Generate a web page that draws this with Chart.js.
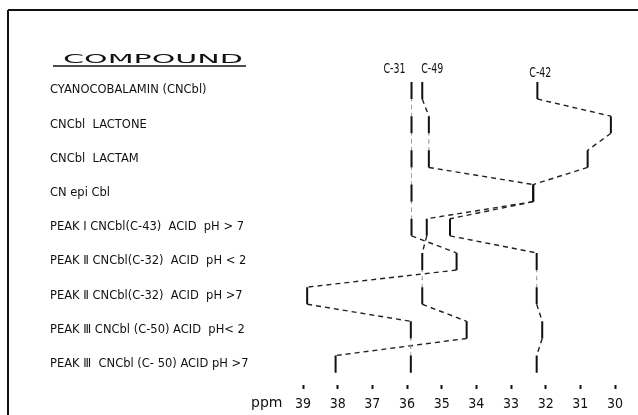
<!DOCTYPE html>
<html><head><meta charset="utf-8">
<script src="https://cdn.jsdelivr.net/npm/chart.js@4/dist/chart.umd.min.js"></script>
<style>html,body{margin:0;padding:0;background:#fff}#wrap{width:638px;height:415px;position:relative}</style>
</head><body><div id="wrap"><canvas id="c"></canvas></div>
<script>
// ---- data ----
const compounds = [
  "CYANOCOBALAMIN (CNCbl)",
  "CNCbl  LACTONE",
  "CNCbl  LACTAM",
  "CN epi Cbl",
  "PEAK Ⅰ CNCbl(C-43)  ACID  pH > 7",
  "PEAK Ⅱ CNCbl(C-32)  ACID  pH < 2",
  "PEAK Ⅱ CNCbl(C-32)  ACID  pH >7",
  "PEAK Ⅲ CNCbl (C-50) ACID  pH< 2",
  "PEAK Ⅲ  CNCbl (C- 50) ACID pH >7"
];
const seriesNames = ["C-31", "C-49", "C-42"];
const c31 = [35.87, 35.87, 35.87, 35.87, 35.87, 34.57, 38.88, 35.89, 35.89];
const c49 = [35.56, 35.37, 35.37, 32.36, 35.43, 35.56, 35.56, 34.28, 38.06];
const c42 = [32.24, 30.12, 30.79, 32.36, 34.76, 32.26, 32.26, 32.10, 32.26];
const ppmTicks = [39, 38, 37, 36, 35, 34, 33, 32, 31, 30];

const HALF = 0.25; // half-height of each row's marker segment (row units)
function toPoints(vals) {
  const pts = [];
  vals.forEach((v, i) => { pts.push({x: v, y: i - HALF}); pts.push({x: v, y: i + HALF}); });
  return pts;
}
const allSeries = [c31, c49, c42];

function kind(ctx) {
  if (Math.floor(ctx.p0DataIndex / 2) === Math.floor(ctx.p1DataIndex / 2)) return 'mark';
  return Math.abs(ctx.p0.parsed.x - ctx.p1.parsed.x) < 0.05 ? 'dot' : 'dash';
}
const segStyle = {
  borderWidth: ctx => ({mark: 2, dot: 1, dash: 1.4})[kind(ctx)],
  borderDash: ctx => ({mark: [], dot: [2, 6], dash: [5, 4]})[kind(ctx)],
  borderColor: ctx => ({mark: '#111', dot: '#9a9a9a', dash: '#222'})[kind(ctx)]
};

const datasets = allSeries.map((vals, k) => ({
  label: seriesNames[k],
  data: toPoints(vals),
  showLine: true,
  borderColor: '#111',
  borderWidth: 1.4,
  pointRadius: 0,
  pointHoverRadius: 0,
  tension: 0,
  fill: false,
  segment: segStyle
}));

const PX_PER_PPM = 34.67, X39 = 303, AREA_L = 290, AREA_R = 625;
const ROW0 = 90.5, ROW_H = 34.2, AREA_T = 10, AREA_B = 385;

const decor = {
  id: 'decor',
  afterDraw(chart) {
    const ctx = chart.ctx, xs = chart.scales.x, ys = chart.scales.y;
    ctx.save();
    // frame
    ctx.strokeStyle = '#111'; ctx.lineWidth = 2;
    ctx.beginPath(); ctx.moveTo(8, 10); ctx.lineTo(638, 10); ctx.moveTo(8, 10); ctx.lineTo(8, 415); ctx.stroke();
    // header
    ctx.fillStyle = '#111';
    ctx.font = '13px "DejaVu Sans"';
    ctx.textBaseline = 'alphabetic';
    const w = ctx.measureText('COMPOUND').width;
    ctx.save(); ctx.translate(63, 63); ctx.scale(180 / w, 1);
    ctx.fillText('COMPOUND', 0, 0); ctx.restore();
    ctx.lineWidth = 1.3; ctx.beginPath(); ctx.moveTo(53, 66); ctx.lineTo(246, 66); ctx.stroke();
    // series labels
    ctx.font = '14px "Liberation Sans Narrow", "DejaVu Sans Condensed", "DejaVu Sans", sans-serif';
    const spec = [{dx: -6, dy: -9, align: 'right'}, {dx: -1, dy: -9, align: 'left'}, {dx: 3, dy: -5, align: 'center'}];
    allSeries.forEach((vals, k) => {
      const px = xs.getPixelForValue(vals[0]);
      const py = ys.getPixelForValue(-HALF);
      ctx.save(); ctx.textAlign = spec[k].align;
      ctx.translate(px + spec[k].dx, py + spec[k].dy); ctx.scale(0.75, 1);
      ctx.fillText(seriesNames[k], 0, 0); ctx.restore();
    });
    // ppm
    ctx.font = '14px "DejaVu Sans"'; ctx.textAlign = 'left';
    ctx.fillText('ppm', 251, 407);
    ctx.restore();
  }
};

new Chart(document.getElementById('c'), {
  type: 'scatter',
  data: {datasets},
  options: {
    responsive: true, maintainAspectRatio: false, animation: false,
    layout: {padding: {left: 50, right: 638 - AREA_R, top: AREA_T, bottom: 0}},
    plugins: {legend: {display: false}, tooltip: {enabled: false}},
    scales: {
      x: {
        type: 'linear', reverse: true,
        min: 39 - (AREA_R - X39) / PX_PER_PPM,
        max: 39 + (X39 - AREA_L) / PX_PER_PPM,
        afterBuildTicks: s => { s.ticks = ppmTicks.map(v => ({value: v})); },
        afterFit: s => { s.height = 415 - AREA_B; },
        border: {display: false},
        grid: {display: true, drawOnChartArea: false, drawTicks: true, tickLength: 4, tickWidth: 2, tickColor: '#111'},
        ticks: {autoSkip: false, maxRotation: 0, padding: 7, color: '#111',
          font: {family: '"Liberation Sans Narrow", "DejaVu Sans Condensed", sans-serif', size: 14},
          callback: v => String(v)}
      },
      y: {
        type: 'linear', reverse: true,
        min: -(ROW0 - AREA_T) / ROW_H,
        max: -(ROW0 - AREA_T) / ROW_H + (AREA_B - AREA_T) / ROW_H,
        afterBuildTicks: s => { s.ticks = compounds.map((_, i) => ({value: i})); },
        afterFit: s => { s.width = AREA_L - 50; },
        border: {display: false},
        grid: {display: false, drawTicks: false},
        ticks: {autoSkip: false, crossAlign: 'far', padding: 0, color: '#111',
          font: {family: '"DejaVu Sans"', size: 11.5},
          callback: v => compounds[v] ?? ''}
      }
    }
  },
  plugins: [decor]
});
</script>
</body></html>
